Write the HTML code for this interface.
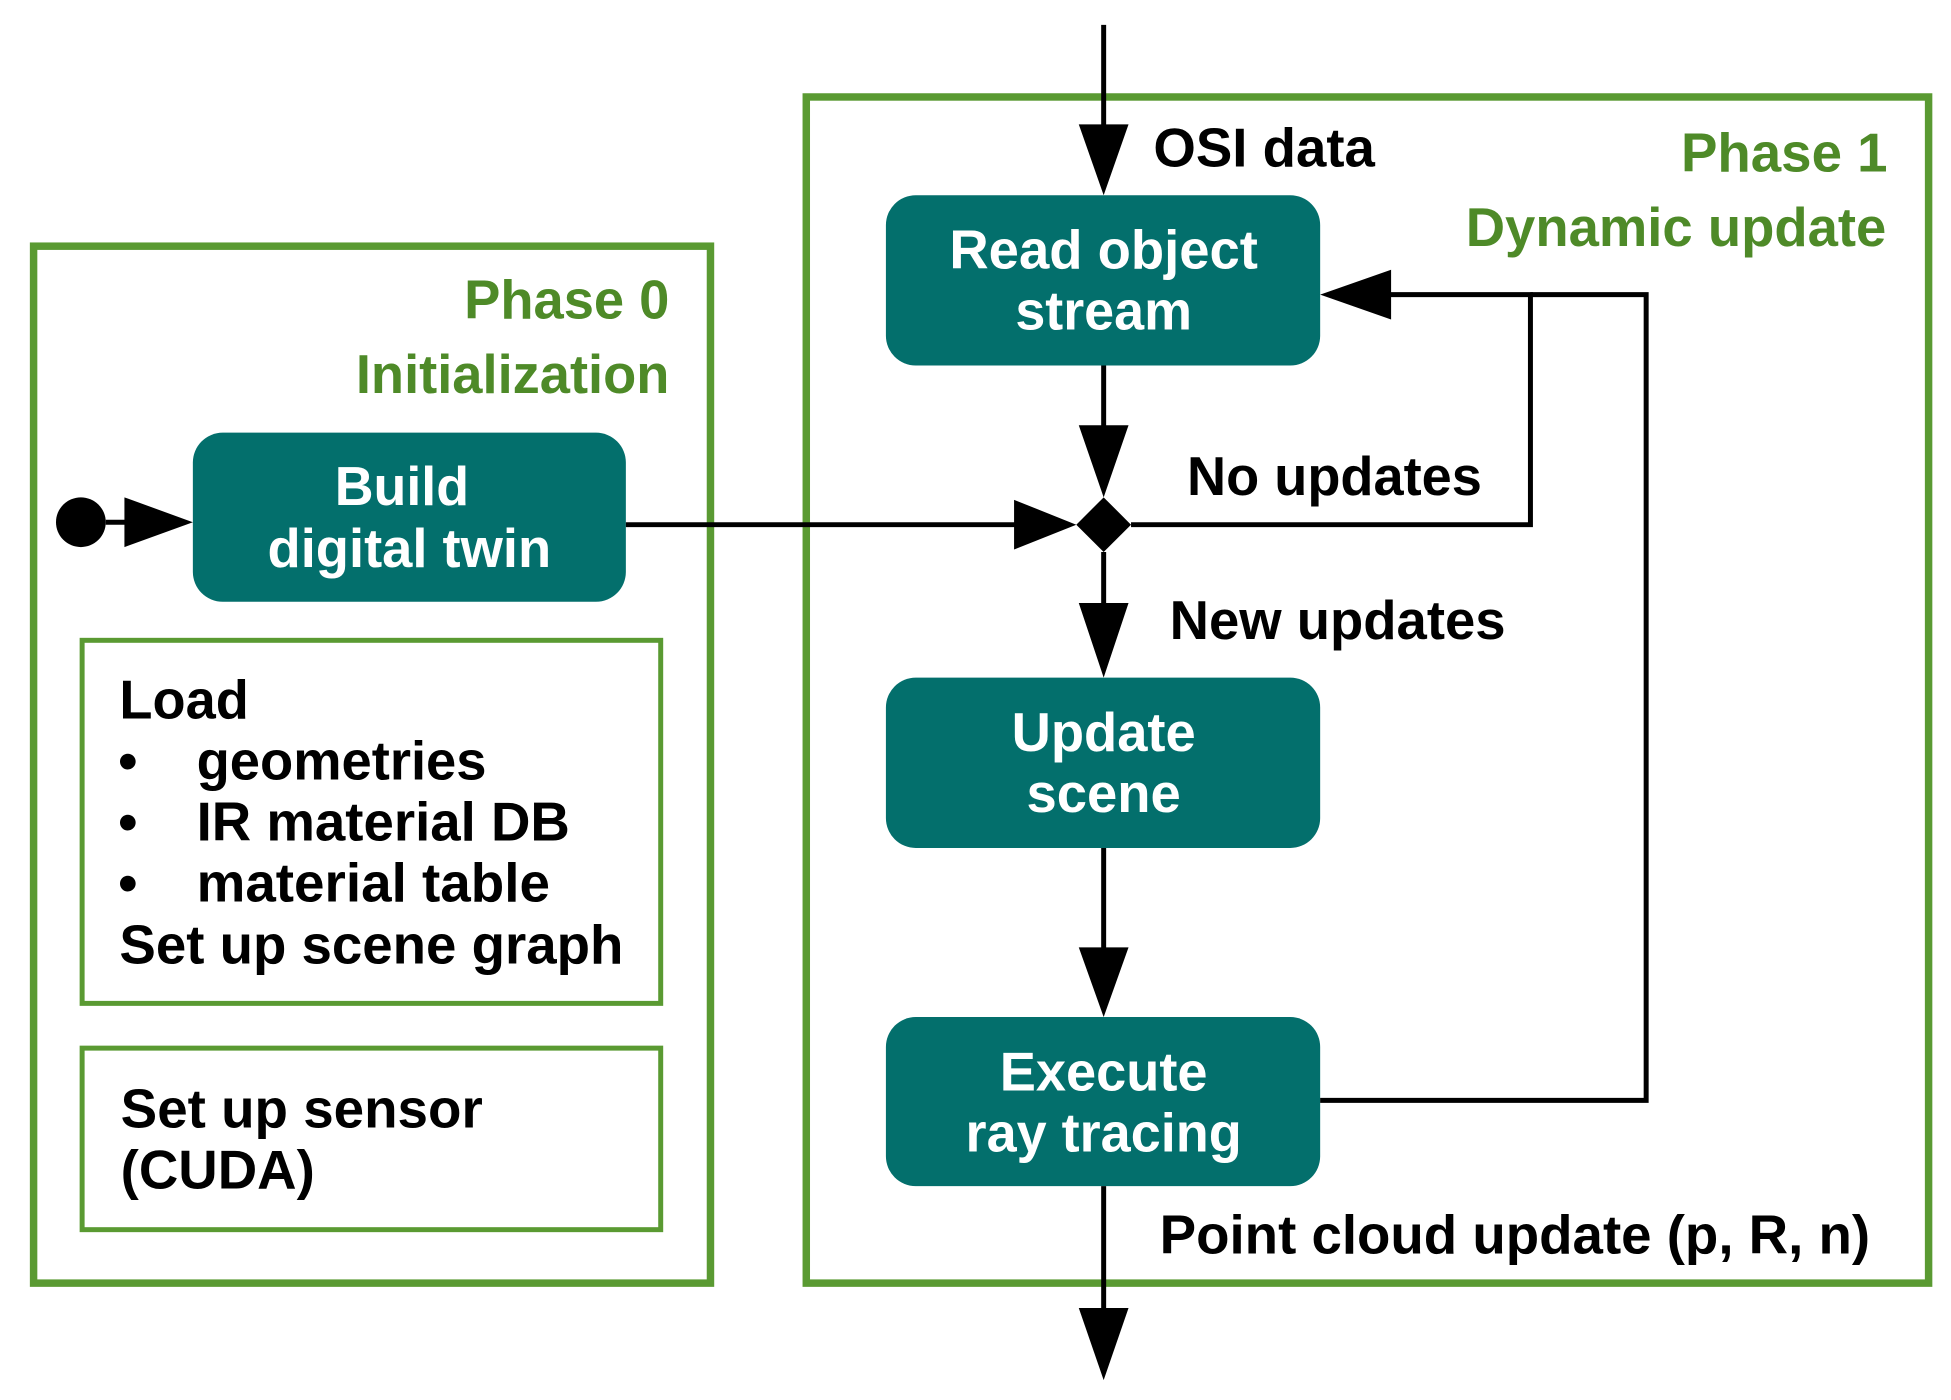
<!DOCTYPE html>
<html><head><meta charset="utf-8"><style>html,body{margin:0;padding:0;background:#fff}svg{display:block}</style></head>
<body>
<svg width="1951" height="1400" viewBox="0 0 1568 1126" preserveAspectRatio="none" xmlns="http://www.w3.org/2000/svg" font-family="Liberation Sans, sans-serif" font-weight="bold">
<g fill="none" stroke="#5a9a32">
<rect x="27" y="198" width="544" height="834" stroke-width="6"/>
<rect x="648" y="78" width="902" height="954" stroke-width="6"/>
<rect x="66" y="515" width="465" height="292" stroke-width="4"/>
<rect x="66" y="843" width="465" height="146" stroke-width="4"/>
</g>
<g fill="#036f6c">
<rect x="155" y="348" width="348" height="136" rx="24"/>
<rect x="712" y="157" width="349" height="137" rx="24"/>
<rect x="712" y="545" width="349" height="137" rx="24"/>
<rect x="712" y="818" width="349" height="136" rx="24"/>
</g>
<g stroke="#000" stroke-width="4" fill="none">
<line x1="85" y1="420" x2="110" y2="420"/>
<line x1="503" y1="422" x2="820" y2="422"/>
<line x1="887" y1="20" x2="887" y2="105"/>
<line x1="887" y1="294" x2="887" y2="345"/>
<line x1="887" y1="444" x2="887" y2="490"/>
<line x1="887" y1="682" x2="887" y2="765"/>
<line x1="887" y1="954" x2="887" y2="1055"/>
<polyline points="909,422 1230,422 1230,237 1115,237"/>
<polyline points="1061,885 1323,885 1323,237 1230,237"/>
</g>
<g fill="#000">
<circle cx="65" cy="420" r="20"/>
<polygon points="100,400 155,420 100,440"/>
<polygon points="815,402 865,422 815,442"/>
<polygon points="865,422 887,400 909,422 887,444"/>
<polygon points="867,100 887,157 907,100"/>
<polygon points="867,342 887,400 907,342"/>
<polygon points="867,485 887,545 907,485"/>
<polygon points="867,762 887,818 907,762"/>
<polygon points="867,1052 887,1110 907,1052"/>
<polygon points="1118,217 1061,237 1118,257"/>
</g>
<g font-size="44" fill="#fff" text-anchor="middle" lengthAdjust="spacingAndGlyphs">
<text x="323" y="406" textLength="108" lengthAdjust="spacingAndGlyphs">Build</text>
<text x="329" y="456" textLength="228" lengthAdjust="spacingAndGlyphs">digital twin</text>
<text x="887" y="216" textLength="248" lengthAdjust="spacingAndGlyphs">Read object</text>
<text x="887" y="265" textLength="142" lengthAdjust="spacingAndGlyphs">stream</text>
<text x="887" y="604" textLength="148" lengthAdjust="spacingAndGlyphs">Update</text>
<text x="887" y="653" textLength="124" lengthAdjust="spacingAndGlyphs">scene</text>
<text x="887" y="877" textLength="167" lengthAdjust="spacingAndGlyphs">Execute</text>
<text x="887" y="926" textLength="222" lengthAdjust="spacingAndGlyphs">ray tracing</text>
</g>
<g font-size="44" fill="#4e8a28" text-anchor="end">
<text x="538" y="256" textLength="165" lengthAdjust="spacingAndGlyphs">Phase 0</text>
<text x="538" y="316" textLength="252" lengthAdjust="spacingAndGlyphs">Initialization</text>
<text x="1517" y="138" textLength="166" lengthAdjust="spacingAndGlyphs">Phase 1</text>
<text x="1516" y="198" textLength="338" lengthAdjust="spacingAndGlyphs">Dynamic update</text>
</g>
<g font-size="44" fill="#000">
<text x="927" y="134" textLength="178" lengthAdjust="spacingAndGlyphs">OSI data</text>
<text x="954" y="398" textLength="237" lengthAdjust="spacingAndGlyphs">No updates</text>
<text x="940" y="514" textLength="270" lengthAdjust="spacingAndGlyphs">New updates</text>
<text x="932" y="1008" textLength="571" lengthAdjust="spacingAndGlyphs">Point cloud update (p, R, n)</text>
<text x="96" y="578" textLength="104" lengthAdjust="spacingAndGlyphs">Load</text>
<text x="95" y="627">•</text><text x="158" y="627" textLength="233" lengthAdjust="spacingAndGlyphs">geometries</text>
<text x="95" y="676">•</text><text x="158" y="676" textLength="300" lengthAdjust="spacingAndGlyphs">IR material DB</text>
<text x="95" y="725">•</text><text x="158" y="725" textLength="284" lengthAdjust="spacingAndGlyphs">material table</text>
<text x="96" y="775" textLength="405" lengthAdjust="spacingAndGlyphs">Set up scene graph</text>
<text x="97" y="907" textLength="291" lengthAdjust="spacingAndGlyphs">Set up sensor</text>
<text x="97" y="956" textLength="156" lengthAdjust="spacingAndGlyphs">(CUDA)</text>
</g>
</svg>
</body></html>
